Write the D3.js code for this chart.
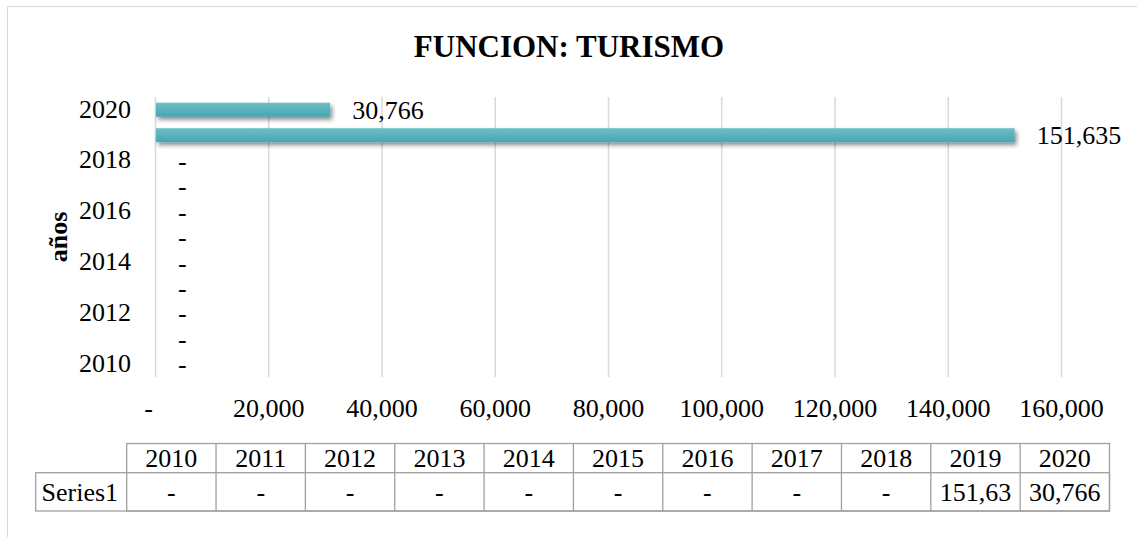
<!DOCTYPE html>
<html>
<head>
<meta charset="utf-8">
<script src="https://cdn.jsdelivr.net/npm/d3@7"></script>
<style>
  body { margin: 0; background: #fff; }
  text { font-family: "Liberation Serif", "Times New Roman", serif; fill: #000; }
</style>
</head>
<body>
<div id="chart"></div>
<script>
/* data */
var years = ["2010", "2011", "2012", "2013", "2014", "2015", "2016", "2017", "2018", "2019", "2020"];
var values = [0, 0, 0, 0, 0, 0, 0, 0, 0, 151635, 30766];
var xTicks = [0, 20000, 40000, 60000, 80000, 100000, 120000, 140000, 160000];
var yTickLabels = ["2010", "2012", "2014", "2016", "2018", "2020"];
var seriesName = "Series1";

var W = 1137, H = 537;
var plot = { left: 155, right: 1061, top: 97, bottom: 377 };
var fmt = d3.format(",");
var label = d => (d === 0 ? "-" : fmt(d));

var svg = d3.select("#chart").append("svg")
  .attr("width", W)
  .attr("height", H);

var defs = svg.append("defs");
var grad = defs.append("linearGradient")
  .attr("id", "barGrad")
  .attr("x1", 0).attr("y1", 0).attr("x2", 0).attr("y2", 1);
grad.append("stop").attr("offset", "0%").attr("stop-color", "#6cbfc6");
grad.append("stop").attr("offset", "100%").attr("stop-color", "#47a6b0");

var shadow = defs.append("filter")
  .attr("id", "barShadow")
  .attr("x", "-5%").attr("y", "-50%")
  .attr("width", "110%").attr("height", "250%");
shadow.append("feDropShadow")
  .attr("dx", 2).attr("dy", 3)
  .attr("stdDeviation", 2)
  .attr("flood-color", "#000")
  .attr("flood-opacity", 0.45);

/* chart frame */
svg.append("rect")
  .attr("x", 7.5).attr("y", 6.5)
  .attr("width", W + 20).attr("height", H + 20)
  .attr("fill", "none")
  .attr("stroke", "#d9d9d9");

/* title */
svg.append("text")
  .attr("x", 569).attr("y", 57)
  .attr("text-anchor", "middle")
  .style("font-size", "31px")
  .style("font-weight", "bold")
  .text("FUNCION: TURISMO");

/* scales */
var xScale = d3.scaleLinear()
  .domain([0, 160000])
  .range([plot.left, plot.right]);

var yScale = d3.scaleBand()
  .domain(years)
  .range([plot.bottom, plot.top])
  .paddingInner(0.45)
  .paddingOuter(0.225);

/* gridlines */
svg.append("g")
  .selectAll("line")
  .data(xTicks)
  .enter()
  .append("line")
  .attr("x1", d => xScale(d) + 0.5)
  .attr("x2", d => xScale(d) + 0.5)
  .attr("y1", plot.top)
  .attr("y2", plot.bottom)
  .attr("stroke", "#d9d9d9")
  .attr("stroke-width", 1.5);

/* x axis */
var xAxis = d3.axisBottom(xScale)
  .tickValues(xTicks)
  .tickSize(0)
  .tickPadding(0)
  .tickFormat(label);

var gx = svg.append("g")
  .attr("transform", `translate(0, ${plot.bottom})`)
  .call(xAxis);
gx.select(".domain").remove();
gx.selectAll("text")
  .attr("y", 40)
  .attr("dy", 0)
  .attr("dx", d => (d === 0 ? -7 : 0))
  .style("font-size", "26px")
  .style("font-family", "Liberation Serif, serif");

/* y axis */
var yAxis = d3.axisLeft(yScale)
  .tickValues(yTickLabels)
  .tickSize(0)
  .tickPadding(24);

var gy = svg.append("g")
  .attr("transform", `translate(${plot.left}, 0)`)
  .call(yAxis);
gy.select(".domain").remove();
gy.selectAll("text")
  .attr("dy", "0.3em")
  .style("font-size", "26px")
  .style("font-family", "Liberation Serif, serif");

svg.append("text")
  .attr("transform", "translate(67, 237) rotate(-90)")
  .attr("text-anchor", "middle")
  .style("font-size", "26px")
  .style("font-weight", "bold")
  .text("años");

/* bars */
var rows = years.map((y, i) => ({ year: y, value: values[i] }));

svg.append("g")
  .selectAll("rect")
  .data(rows.filter(d => d.value > 0))
  .enter()
  .append("rect")
  .attr("x", xScale(0) + 1)
  .attr("y", d => yScale(d.year))
  .attr("width", d => xScale(d.value) - xScale(0))
  .attr("height", yScale.bandwidth())
  .attr("fill", "url(#barGrad)")
  .attr("filter", "url(#barShadow)");

/* data labels */
svg.append("g")
  .selectAll("text")
  .data(rows)
  .enter()
  .append("text")
  .attr("x", d => xScale(d.value) + 23)
  .attr("y", d => yScale(d.year) + yScale.bandwidth() / 2)
  .attr("dy", "0.35em")
  .style("font-size", "26px")
  .text(d => label(d.value));

/* data table */
var table = { left: 126.7, right: 1109.5, labelLeft: 35.7, top: 443.5, mid: 472.7, bottom: 511 };
var colScale = d3.scaleBand()
  .domain(years)
  .range([table.left, table.right]);
var cw = colScale.bandwidth();

var tg = svg.append("g")
  .attr("stroke", "#a0a0a0")
  .attr("stroke-width", 1.3)
  .attr("fill", "none");

tg.append("rect")
  .attr("x", table.left).attr("y", table.top)
  .attr("width", table.right - table.left)
  .attr("height", table.bottom - table.top);
tg.append("rect")
  .attr("x", table.labelLeft).attr("y", table.mid)
  .attr("width", table.right - table.labelLeft)
  .attr("height", table.bottom - table.mid);
tg.selectAll("line.col")
  .data(years.slice(1))
  .enter()
  .append("line")
  .attr("class", "col")
  .attr("x1", d => colScale(d)).attr("x2", d => colScale(d))
  .attr("y1", table.top).attr("y2", table.bottom);

svg.append("g")
  .selectAll("text")
  .data(years)
  .enter()
  .append("text")
  .attr("x", d => colScale(d) + cw / 2)
  .attr("y", (table.top + table.mid) / 2)
  .attr("dy", "0.35em")
  .attr("text-anchor", "middle")
  .style("font-size", "26px")
  .text(d => d);

svg.append("text")
  .attr("x", 41.5)
  .attr("y", (table.mid + table.bottom) / 2)
  .attr("dy", "0.35em")
  .style("font-size", "26px")
  .text(seriesName);

svg.append("g")
  .selectAll("text")
  .data(rows)
  .enter()
  .append("text")
  .attr("x", d => colScale(d.year) + cw / 2)
  .attr("y", (table.mid + table.bottom) / 2)
  .attr("dy", "0.35em")
  .attr("text-anchor", "middle")
  .style("font-size", "26px")
  .text(d => label(d.value))
  .each(function () {
    // cells clip numbers that do not fit, as the spreadsheet does
    var t = d3.select(this);
    var s = t.text();
    while (this.getComputedTextLength() > cw - 6 && s.length > 1) {
      s = s.slice(0, -1);
      t.text(s);
    }
  });
</script>
</body>
</html>
